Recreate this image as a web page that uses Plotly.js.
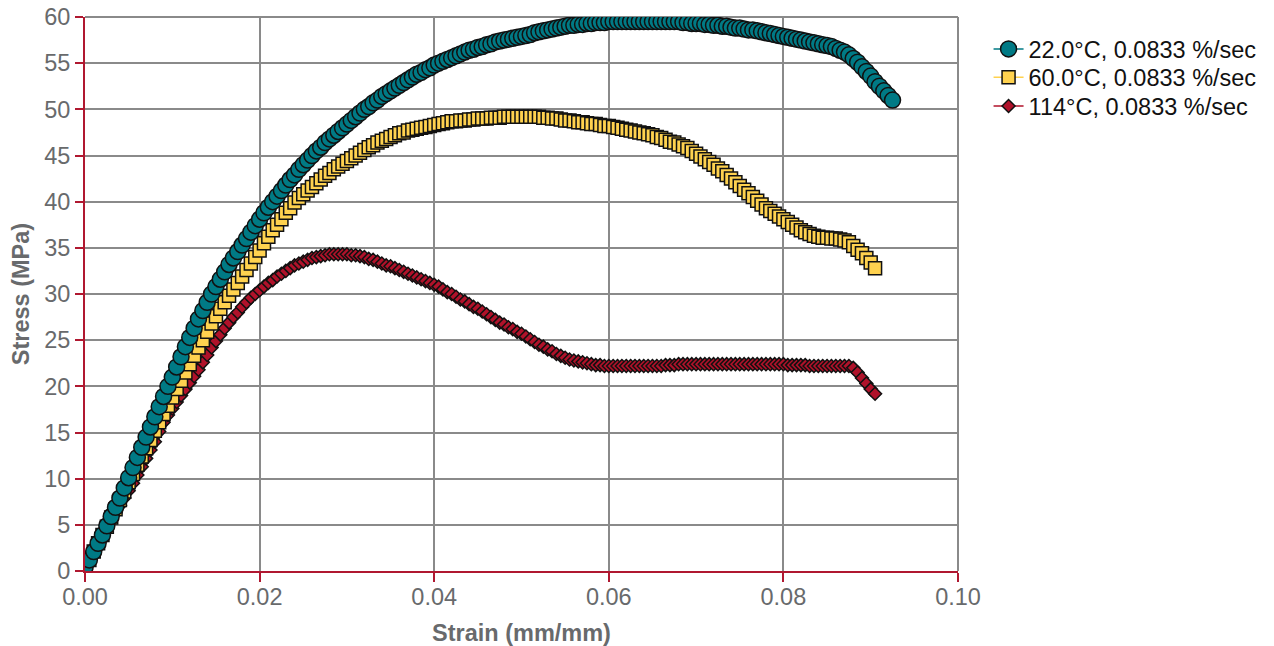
<!DOCTYPE html>
<html>
<head>
<meta charset="utf-8">
<script src="https://cdn.plot.ly/plotly-3.0.1.min.js"></script>
<style>
html,body{margin:0;padding:0;background:#fff;}
#chart{width:1274px;height:646px;}
</style>
</head>
<body>
<div id="chart"></div>
<script>
// Strain values (mm/mm), shared sampling grid
const strain = [
0.0000,0.0005,0.0010,0.0015,0.0020,0.0025,0.0030,0.0035,0.0040,0.0045,
0.0050,0.0055,0.0060,0.0065,0.0070,0.0075,0.0080,0.0085,0.0090,0.0095,
0.0100,0.0105,0.0110,0.0115,0.0120,0.0125,0.0130,0.0135,0.0140,0.0145,
0.0150,0.0155,0.0160,0.0165,0.0170,0.0175,0.0180,0.0185,0.0190,0.0195,
0.0200,0.0205,0.0210,0.0215,0.0220,0.0225,0.0230,0.0235,0.0240,0.0245,
0.0250,0.0255,0.0260,0.0265,0.0270,0.0275,0.0280,0.0285,0.0290,0.0295,
0.0300,0.0305,0.0310,0.0315,0.0320,0.0325,0.0330,0.0335,0.0340,0.0345,
0.0350,0.0355,0.0360,0.0365,0.0370,0.0375,0.0380,0.0385,0.0390,0.0395,
0.0400,0.0405,0.0410,0.0415,0.0420,0.0425,0.0430,0.0435,0.0440,0.0445,
0.0450,0.0455,0.0460,0.0465,0.0470,0.0475,0.0480,0.0485,0.0490,0.0495,
0.0500,0.0505,0.0510,0.0515,0.0520,0.0525,0.0530,0.0535,0.0540,0.0545,
0.0550,0.0555,0.0560,0.0565,0.0570,0.0575,0.0580,0.0585,0.0590,0.0595,
0.0600,0.0605,0.0610,0.0615,0.0620,0.0625,0.0630,0.0635,0.0640,0.0645,
0.0650,0.0655,0.0660,0.0665,0.0670,0.0675,0.0680,0.0685,0.0690,0.0695,
0.0700,0.0705,0.0710,0.0715,0.0720,0.0725,0.0730,0.0735,0.0740,0.0745,
0.0750,0.0755,0.0760,0.0765,0.0770,0.0775,0.0780,0.0785,0.0790,0.0795,
0.0800,0.0805,0.0810,0.0815,0.0820,0.0825,0.0830,0.0835,0.0840,0.0845,
0.0850,0.0855,0.0860,0.0865,0.0870,0.0875,0.0880,0.0885,0.0890,0.0895,
0.0900,0.0905,0.0910,0.0915,0.0920,0.0925
];

// Stress (MPa), 22.0 °C
const stress22 = [
0.4,1.2,2.1,3.0,3.9,4.9,5.9,6.9,7.9,9.0,
10.1,11.2,12.3,13.4,14.5,15.6,16.7,17.8,18.9,20.0,
21.0,22.1,23.2,24.3,25.3,26.3,27.3,28.2,29.1,30.0,
30.8,31.6,32.4,33.2,33.9,34.6,35.3,36.0,36.7,37.4,
38.1,38.8,39.4,40.0,40.6,41.2,41.8,42.4,42.9,43.5,
44.0,44.5,45.0,45.5,45.9,46.4,46.8,47.2,47.6,48.0,
48.4,48.8,49.2,49.6,50.0,50.3,50.7,51.0,51.4,51.7,
52.0,52.3,52.6,52.9,53.2,53.5,53.8,54.0,54.3,54.5,
54.8,55.0,55.2,55.4,55.6,55.8,56.0,56.2,56.4,56.5,
56.7,56.8,57.0,57.1,57.3,57.4,57.5,57.6,57.7,57.8,
57.9,58.0,58.1,58.3,58.4,58.5,58.6,58.7,58.8,58.9,
59.0,59.1,59.1,59.2,59.2,59.3,59.3,59.4,59.4,59.4,
59.5,59.5,59.5,59.5,59.5,59.5,59.5,59.5,59.5,59.5,
59.5,59.5,59.5,59.5,59.5,59.5,59.5,59.4,59.4,59.3,
59.3,59.3,59.2,59.2,59.1,59.1,59.0,59.0,58.9,58.8,
58.8,58.7,58.6,58.6,58.5,58.4,58.3,58.2,58.1,58.0,
57.9,57.8,57.7,57.6,57.5,57.4,57.3,57.2,57.1,57.0,
56.9,56.8,56.6,56.4,56.2,55.9,55.5,55.1,54.6,54.1,
53.6,53.0,52.5,52.0,51.5,51.0
];

// Stress (MPa), 60.0 °C
const stress60 = [
0.3,1.2,2.1,3.0,3.9,4.8,5.8,6.7,7.7,8.6,
9.6,10.5,11.5,12.4,13.3,14.2,15.2,16.1,17.0,17.9,
18.8,19.7,20.6,21.5,22.4,23.3,24.2,25.0,25.9,26.8,
27.6,28.4,29.1,29.8,30.5,31.2,31.9,32.6,33.3,34.0,
34.7,35.5,36.2,36.9,37.5,38.1,38.8,39.3,39.9,40.4,
40.8,41.2,41.6,42.0,42.4,42.8,43.1,43.5,43.8,44.1,
44.4,44.7,45.0,45.3,45.6,45.9,46.1,46.4,46.6,46.8,
47.0,47.2,47.4,47.5,47.7,47.8,47.9,48.0,48.1,48.2,
48.3,48.4,48.5,48.6,48.7,48.7,48.8,48.8,48.9,48.9,
49.0,49.0,49.0,49.1,49.1,49.1,49.2,49.2,49.2,49.2,
49.2,49.2,49.2,49.2,49.2,49.1,49.1,49.0,49.0,48.9,
48.8,48.8,48.7,48.6,48.6,48.5,48.4,48.4,48.3,48.2,
48.2,48.1,48.0,47.9,47.8,47.7,47.6,47.5,47.4,47.3,
47.2,47.0,46.9,46.7,46.5,46.4,46.2,46.0,45.8,45.5,
45.2,44.9,44.6,44.3,44.0,43.6,43.3,42.9,42.5,42.1,
41.7,41.3,40.9,40.5,40.1,39.7,39.3,39.0,38.7,38.4,
38.1,37.8,37.5,37.2,36.9,36.7,36.5,36.3,36.2,36.1,
36.1,36.0,36.0,35.9,35.8,35.6,35.2,34.8,34.4,33.9,
33.4,32.8
];

// Stress (MPa), 114 °C
const stress114 = [
0.3,1.2,2.1,3.0,3.8,4.7,5.5,6.3,7.1,7.9,
8.7,9.5,10.4,11.3,12.2,13.1,14.0,15.1,16.1,16.9,
17.6,18.3,19.0,19.7,20.4,21.1,21.8,22.6,23.4,24.2,
24.9,25.6,26.3,26.9,27.5,28.0,28.6,29.1,29.6,30.0,
30.4,30.8,31.2,31.5,31.9,32.2,32.5,32.8,33.1,33.3,
33.5,33.7,33.9,34.0,34.1,34.2,34.3,34.3,34.3,34.3,
34.3,34.2,34.2,34.1,34.0,33.8,33.7,33.5,33.3,33.1,
33.0,32.8,32.6,32.4,32.2,32.0,31.8,31.6,31.4,31.2,
31.0,30.8,30.5,30.2,30.0,29.7,29.4,29.2,28.9,28.6,
28.4,28.1,27.8,27.5,27.2,26.9,26.7,26.4,26.2,25.9,
25.7,25.4,25.1,24.8,24.5,24.3,24.0,23.8,23.5,23.3,
23.1,22.9,22.8,22.7,22.6,22.5,22.4,22.3,22.3,22.2,
22.2,22.2,22.2,22.2,22.2,22.2,22.2,22.2,22.2,22.2,
22.2,22.2,22.2,22.3,22.3,22.3,22.4,22.4,22.4,22.4,
22.4,22.4,22.4,22.4,22.4,22.4,22.4,22.4,22.4,22.4,
22.4,22.4,22.4,22.4,22.4,22.4,22.4,22.4,22.4,22.4,
22.4,22.3,22.3,22.3,22.3,22.3,22.2,22.2,22.2,22.2,
22.2,22.2,22.2,22.2,22.2,22.2,22.0,21.5,20.9,20.3,
19.7,19.2
];

const seriesNames = ["22.0°C, 0.0833 %/sec", "60.0°C, 0.0833 %/sec", "114°C, 0.0833 %/sec"];
const xTickVals = [0, 0.02, 0.04, 0.06, 0.08, 0.10];
const xTickText = ["0.00", "0.02", "0.04", "0.06", "0.08", "0.10"];
const yTickVals = [0,5,10,15,20,25,30,35,40,45,50,55,60];

const FONT = '"Liberation Sans", Arial, sans-serif';
const FS = 23.5;
const AXIS_RED = '#b01830';
const GRID = '#8a8a8a';
const TXT = '#686a6c';

const traces = [
  {
    x: strain.slice(0, stress114.length), y: stress114, name: seriesNames[2], legend: 'legend3',
    type: 'scatter', mode: 'lines+markers',
    line: {color: '#b0122a', width: 1.5},
    marker: {symbol: 'diamond', size: 10, color: '#b0122a', line: {color: '#111', width: 1.5}}
  },
  {
    x: strain.slice(0, stress60.length), y: stress60, name: seriesNames[1], legend: 'legend2',
    type: 'scatter', mode: 'lines+markers',
    line: {color: '#ffd24f', width: 1.5},
    marker: {symbol: 'square', size: 13, color: '#ffd24f', line: {color: '#111', width: 1.5}}
  },
  {
    x: strain.slice(0, stress22.length), y: stress22, name: seriesNames[0], legend: 'legend',
    type: 'scatter', mode: 'lines+markers',
    line: {color: '#007a85', width: 1.5},
    marker: {symbol: 'circle', size: 16, color: '#007a85', line: {color: '#111', width: 1.5}}
  }
];

function legendAt(yPaper) {
  return {
    x: 1.035, y: yPaper, xanchor: 'left', yanchor: 'middle',
    font: {family: FONT, size: FS, color: '#111'},
    bgcolor: 'rgba(0,0,0,0)', itemsizing: 'trace', borderwidth: 0
  };
}

const layout = {
  width: 1274, height: 646,
  margin: {l: 85, r: 316, t: 17, b: 75, pad: 0},
  paper_bgcolor: '#ffffff', plot_bgcolor: '#ffffff',
  font: {family: FONT, color: TXT, size: FS},
  showlegend: true,
  legend: legendAt(0.942),
  legend2: legendAt(0.891),
  legend3: legendAt(0.839),
  xaxis: {
    range: [0, 0.10], tickvals: xTickVals, ticktext: xTickText,
    showgrid: true, gridcolor: GRID, gridwidth: 2,
    showline: true, linecolor: AXIS_RED, linewidth: 2,
    ticks: 'outside', ticklen: 9, tickwidth: 2, tickcolor: AXIS_RED,
    ticklabelstandoff: -5,
    zeroline: false,
    tickfont: {family: FONT, size: FS, color: TXT},
    title: {text: '<b>Strain (mm/mm)</b>', font: {family: FONT, size: FS, color: TXT}, standoff: 15}
  },
  yaxis: {
    range: [0, 60], tickvals: yTickVals,
    showgrid: true, gridcolor: GRID, gridwidth: 2,
    showline: true, linecolor: AXIS_RED, linewidth: 2,
    ticks: 'outside', ticklen: 8, tickwidth: 2, tickcolor: AXIS_RED,
    zeroline: false,
    tickfont: {family: FONT, size: FS, color: TXT},
    title: {text: '<b>Stress (MPa)</b>', font: {family: FONT, size: FS, color: TXT}, standoff: 8}
  },
  shapes: [
    {type: 'line', xref: 'paper', yref: 'paper', x0: 1, x1: 1, y0: 0, y1: 1, line: {color: GRID, width: 2}, layer: 'below'},
    {type: 'line', xref: 'paper', yref: 'paper', x0: 0, x1: 1, y0: 1, y1: 1, line: {color: GRID, width: 2}, layer: 'below'}
  ]
};

Plotly.newPlot('chart', traces, layout, {displayModeBar: false, staticPlot: true});
</script>
</body>
</html>
